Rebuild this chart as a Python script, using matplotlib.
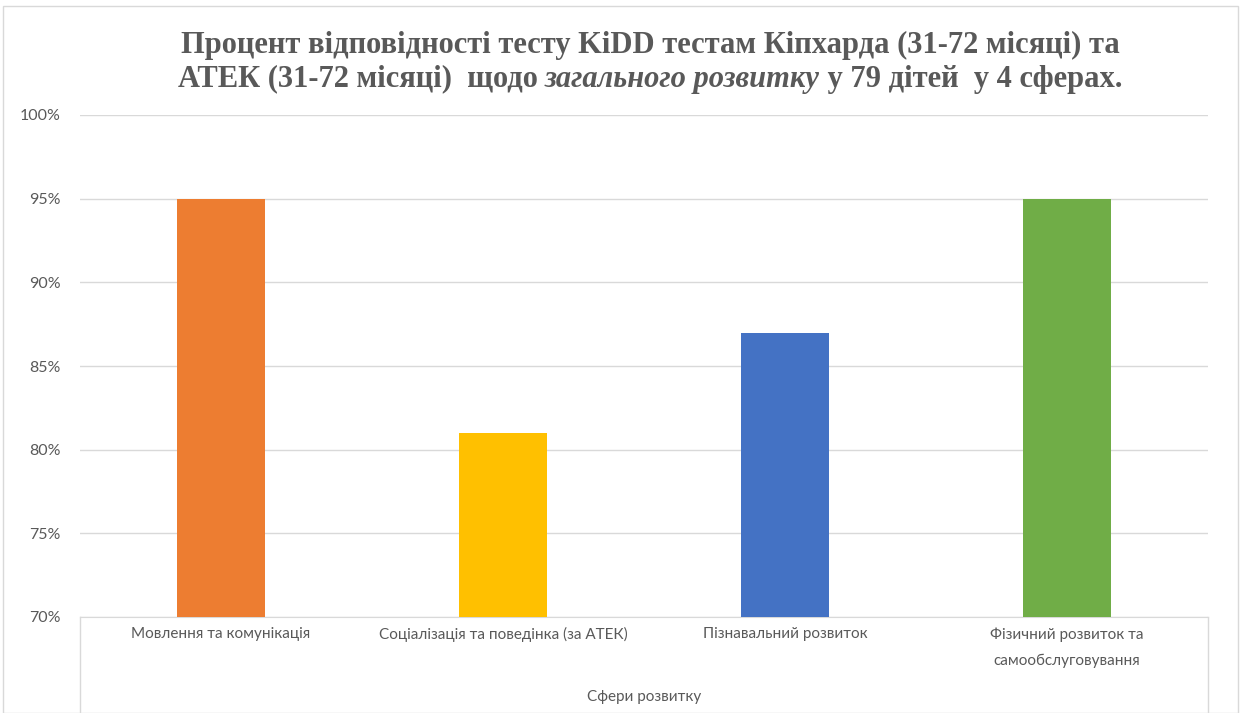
import matplotlib.pyplot as plt
from matplotlib.patches import Rectangle
from matplotlib.lines import Line2D

# Data
categories = ["Мовлення та комунікація",
              "Соціалізація та поведінка (за АТЕК)",
              "Пізнавальний розвиток",
              "Фізичний розвиток та\nсамообслуговування"]
values = [95, 81, 87, 95]
colors = ["#ED7D31", "#FFC000", "#4472C4", "#70AD47"]
yticks = [70, 75, 80, 85, 90, 95, 100]
ytick_labels = ["70%", "75%", "80%", "85%", "90%", "95%", "100%"]
xlabel = "Сфери розвитку"
title_line1 = "Процент відповідності тесту KiDD тестам Кіпхарда (31-72 місяці) та"
title_parts2 = [("АТЕК (31-72 місяці)  щодо ", "normal"),
                ("загального розвитку", "italic"),
                (" у 79 дітей  у 4 сферах.", "normal")]

text_col = "#595959"
grid_col = "#D9D9D9"
W, H = 1243, 713

fig = plt.figure(figsize=(W / 100, H / 100), dpi=100)
ax = fig.add_axes([80 / W, 1 - 617 / H, (1208 - 80) / W, (617 - 115) / H])

x = range(len(categories))
ax.bar(x, [v - 70 for v in values], bottom=70, width=0.31, color=colors, zorder=3)
ax.set_xlim(-0.5, len(categories) - 0.5)
ax.set_ylim(70, 100)
ax.set_yticks(yticks)
ax.set_yticklabels(ytick_labels, fontsize=11.5, color=text_col, family="Lato")
ax.yaxis.grid(True, color=grid_col, linewidth=1, zorder=0)
ax.tick_params(axis="y", length=0, pad=14)
ax.set_xticks([])
for s in ["top", "right", "left"]:
    ax.spines[s].set_visible(False)
ax.spines["bottom"].set_color(grid_col)

# category labels (multi-level axis look)
for i, c in enumerate(categories):
    fig.text((80 + (i + 0.5) * 282) / W, 1 - 627 / H, c, ha="center", va="top",
             fontsize=11, color=text_col, family="Lato", linespacing=2.1,
             transform=fig.transFigure)
fig.text((80 + 1208) / 2 / W, 1 - 697 / H, xlabel, ha="center", va="center",
         fontsize=11, color=text_col, family="Lato")
for xp in [80, 1208]:
    fig.add_artist(Line2D([xp / W, xp / W], [0, 1 - 617 / H], color=grid_col, lw=1))

# outer chart border
fig.add_artist(Rectangle((3 / W, 0), (1238 - 3) / W, 1 - 6 / H, transform=fig.transFigure,
                         fill=False, edgecolor=grid_col, lw=1))

# title, second line has an italic piece
title_cx = 650
tkw = dict(fontsize=22, color=text_col, family="Liberation Serif", weight="bold")
fig.text(title_cx / W, 1 - 45 / H, title_line1, ha="center", va="center", **tkw)
renderer = fig.canvas.get_renderer()
pieces = []
total = 0
for txt, st in title_parts2:
    t = fig.text(0, 1 - 79 / H, txt, ha="left", va="center", style=st, **tkw)
    w = t.get_window_extent(renderer).width
    pieces.append((t, w))
    total += w
xpos = title_cx - total / 2
for t, w in pieces:
    t.set_x(xpos / W)
    xpos += w

fig.savefig("out.png", dpi=100)
